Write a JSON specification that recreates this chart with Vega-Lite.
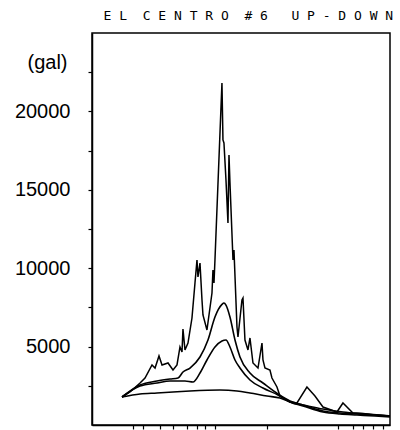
{
  "$schema": "https://vega.github.io/schema/vega-lite/v6.json",
  "width": 298,
  "height": 392,
  "autosize": {"type": "none"},
  "padding": {"left": 92, "top": 33, "right": 10, "bottom": 5},
  "background": "white",
  "title": {
    "text": "E\u00a0L\u00a0\u00a0C\u00a0E\u00a0N\u00a0T\u00a0R\u00a0O\u00a0\u00a0#\u00a06\u00a0\u00a0\u00a0U\u00a0P\u00a0-\u00a0D\u00a0O\u00a0W\u00a0N",
    "anchor": "end",
    "font": "DejaVu Sans Mono",
    "fontSize": 13,
    "fontWeight": "normal",
    "color": "black",
    "offset": 10
  },
  "config": {
    "view": {"stroke": "black", "strokeWidth": 1.5},
    "axis": {"grid": false, "domainColor": "black", "tickColor": "black", "labelColor": "black", "titleColor": "black"}
  },
  "datasets": {
    "spectra": [
      {"curve": "a", "period": 0.0349, "acc": 1786},
      {"curve": "a", "period": 0.0404, "acc": 2105},
      {"curve": "a", "period": 0.0487, "acc": 2679},
      {"curve": "a", "period": 0.0534, "acc": 2998},
      {"curve": "a", "period": 0.0608, "acc": 3827},
      {"curve": "a", "period": 0.0643, "acc": 3635},
      {"curve": "a", "period": 0.0692, "acc": 4401},
      {"curve": "a", "period": 0.0732, "acc": 3827},
      {"curve": "a", "period": 0.0818, "acc": 3954},
      {"curve": "a", "period": 0.0897, "acc": 3508},
      {"curve": "a", "period": 0.0966, "acc": 3827},
      {"curve": "a", "period": 0.1021, "acc": 4975},
      {"curve": "a", "period": 0.1060, "acc": 4656},
      {"curve": "a", "period": 0.1079, "acc": 6123},
      {"curve": "a", "period": 0.1120, "acc": 4784},
      {"curve": "a", "period": 0.1184, "acc": 5230},
      {"curve": "a", "period": 0.1275, "acc": 6824},
      {"curve": "a", "period": 0.1348, "acc": 9057},
      {"curve": "a", "period": 0.1399, "acc": 10524},
      {"curve": "a", "period": 0.1425, "acc": 9439},
      {"curve": "a", "period": 0.1479, "acc": 10332},
      {"curve": "a", "period": 0.1535, "acc": 7973},
      {"curve": "a", "period": 0.1563, "acc": 7016},
      {"curve": "a", "period": 0.1683, "acc": 6059},
      {"curve": "a", "period": 0.1847, "acc": 8419},
      {"curve": "a", "period": 0.1881, "acc": 9886},
      {"curve": "a", "period": 0.1917, "acc": 9057},
      {"curve": "a", "period": 0.1952, "acc": 10524},
      {"curve": "a", "period": 0.2222, "acc": 21813},
      {"curve": "a", "period": 0.2264, "acc": 18177},
      {"curve": "a", "period": 0.2306, "acc": 17986},
      {"curve": "a", "period": 0.2394, "acc": 15626},
      {"curve": "a", "period": 0.2484, "acc": 12884},
      {"curve": "a", "period": 0.2531, "acc": 17221},
      {"curve": "a", "period": 0.2578, "acc": 15435},
      {"curve": "a", "period": 0.2726, "acc": 10524},
      {"curve": "a", "period": 0.2776, "acc": 11162},
      {"curve": "a", "period": 0.2935, "acc": 6250},
      {"curve": "a", "period": 0.2990, "acc": 5613},
      {"curve": "a", "period": 0.3219, "acc": 7973},
      {"curve": "a", "period": 0.3280, "acc": 8100},
      {"curve": "a", "period": 0.3403, "acc": 5421},
      {"curve": "a", "period": 0.3598, "acc": 4784},
      {"curve": "a", "period": 0.3734, "acc": 5549},
      {"curve": "a", "period": 0.3948, "acc": 3954},
      {"curve": "a", "period": 0.4332, "acc": 3635},
      {"curve": "a", "period": 0.4665, "acc": 5230},
      {"curve": "a", "period": 0.4751, "acc": 4146},
      {"curve": "a", "period": 0.4930, "acc": 3635},
      {"curve": "a", "period": 0.5408, "acc": 3508},
      {"curve": "a", "period": 0.5612, "acc": 2998},
      {"curve": "a", "period": 0.6157, "acc": 2424},
      {"curve": "a", "period": 0.6508, "acc": 1850},
      {"curve": "a", "period": 0.7832, "acc": 1467},
      {"curve": "a", "period": 0.892, "acc": 1403},
      {"curve": "a", "period": 1.073, "acc": 2424},
      {"curve": "a", "period": 1.245, "acc": 1850},
      {"curve": "a", "period": 1.444, "acc": 1148},
      {"curve": "a", "period": 1.871, "acc": 829},
      {"curve": "a", "period": 2.091, "acc": 1403},
      {"curve": "a", "period": 2.516, "acc": 765},
      {"curve": "a", "period": 3.262, "acc": 702},
      {"curve": "a", "period": 3.782, "acc": 638},
      {"curve": "a", "period": 4.994, "acc": 574},

      {"curve": "b", "period": 0.0349, "acc": 1786},
      {"curve": "b", "period": 0.0487, "acc": 2551},
      {"curve": "b", "period": 0.0667, "acc": 2806},
      {"curve": "b", "period": 0.0848, "acc": 2934},
      {"curve": "b", "period": 0.0984, "acc": 2998},
      {"curve": "b", "period": 0.1079, "acc": 3380},
      {"curve": "b", "period": 0.1229, "acc": 3635},
      {"curve": "b", "period": 0.1479, "acc": 4337},
      {"curve": "b", "period": 0.1715, "acc": 5421},
      {"curve": "b", "period": 0.1952, "acc": 6888},
      {"curve": "b", "period": 0.2222, "acc": 7690},
      {"curve": "b", "period": 0.2306, "acc": 7780},
      {"curve": "b", "period": 0.2394, "acc": 7650},
      {"curve": "b", "period": 0.2578, "acc": 6888},
      {"curve": "b", "period": 0.2829, "acc": 5421},
      {"curve": "b", "period": 0.3102, "acc": 4337},
      {"curve": "b", "period": 0.3734, "acc": 3317},
      {"curve": "b", "period": 0.4751, "acc": 2679},
      {"curve": "b", "period": 0.6272, "acc": 1977},
      {"curve": "b", "period": 0.7832, "acc": 1531},
      {"curve": "b", "period": 0.9966, "acc": 1276},
      {"curve": "b", "period": 1.444, "acc": 893},
      {"curve": "b", "period": 1.978, "acc": 765},
      {"curve": "b", "period": 2.710, "acc": 702},
      {"curve": "b", "period": 3.782, "acc": 638},
      {"curve": "b", "period": 4.994, "acc": 574},

      {"curve": "c", "period": 0.0349, "acc": 1786},
      {"curve": "c", "period": 0.0487, "acc": 2487},
      {"curve": "c", "period": 0.0667, "acc": 2679},
      {"curve": "c", "period": 0.0848, "acc": 2806},
      {"curve": "c", "period": 0.1120, "acc": 2806},
      {"curve": "c", "period": 0.1299, "acc": 2743},
      {"curve": "c", "period": 0.1479, "acc": 3317},
      {"curve": "c", "period": 0.1683, "acc": 4146},
      {"curve": "c", "period": 0.1952, "acc": 4975},
      {"curve": "c", "period": 0.2222, "acc": 5358},
      {"curve": "c", "period": 0.2394, "acc": 5421},
      {"curve": "c", "period": 0.2578, "acc": 4975},
      {"curve": "c", "period": 0.2829, "acc": 4146},
      {"curve": "c", "period": 0.3102, "acc": 3635},
      {"curve": "c", "period": 0.3734, "acc": 2870},
      {"curve": "c", "period": 0.4751, "acc": 2360},
      {"curve": "c", "period": 0.6272, "acc": 1913},
      {"curve": "c", "period": 0.7832, "acc": 1467},
      {"curve": "c", "period": 0.9966, "acc": 1212},
      {"curve": "c", "period": 1.444, "acc": 829},
      {"curve": "c", "period": 1.978, "acc": 702},
      {"curve": "c", "period": 2.710, "acc": 638},
      {"curve": "c", "period": 3.782, "acc": 574},
      {"curve": "c", "period": 4.994, "acc": 510},

      {"curve": "d", "period": 0.0349, "acc": 1786},
      {"curve": "d", "period": 0.0487, "acc": 1977},
      {"curve": "d", "period": 0.0667, "acc": 2041},
      {"curve": "d", "period": 0.0897, "acc": 2105},
      {"curve": "d", "period": 0.1229, "acc": 2169},
      {"curve": "d", "period": 0.2142, "acc": 2232},
      {"curve": "d", "period": 0.2935, "acc": 2169},
      {"curve": "d", "period": 0.3734, "acc": 2041},
      {"curve": "d", "period": 0.5117, "acc": 1850},
      {"curve": "d", "period": 0.6508, "acc": 1722},
      {"curve": "d", "period": 0.828, "acc": 1403},
      {"curve": "d", "period": 0.9966, "acc": 1276},
      {"curve": "d", "period": 1.444, "acc": 1020},
      {"curve": "d", "period": 2.091, "acc": 829},
      {"curve": "d", "period": 3.262, "acc": 702},
      {"curve": "d", "period": 4.994, "acc": 574}
    ]
  },
  "data": {"name": "spectra"},
  "encoding": {
    "x": {
      "field": "period",
      "type": "quantitative",
      "scale": {"type": "log", "domain": [0.02, 5], "nice": false},
      "axis": {
        "title": null,
        "labels": false,
        "values": [0.0427, 0.0514, 0.0706, 0.0897, 0.1163, 0.1399, 0.1622, 0.1952, 0.5117, 1.906, 2.516, 3.03, 3.65, 4.39],
        "tickSize": 4,
        "tickWidth": 1.2,
        "domainWidth": 1.5
      }
    },
    "y": {
      "field": "acc",
      "type": "quantitative",
      "scale": {"domain": [0, 25000], "nice": false},
      "axis": {
        "title": "(gal)",
        "titleAngle": 0,
        "titleX": -45,
        "titleY": 29,
        "titleAlign": "center",
        "titleBaseline": "middle",
        "titleFont": "Liberation Sans",
        "titleFontSize": 20,
        "titleFontWeight": "normal",
        "values": [2500, 5000, 7500, 10000, 12500, 15000, 17500, 20000, 22500],
        "format": "d",
        "labelExpr": "datum.value % 5000 == 0 ? datum.label : ''",
        "labelFont": "Liberation Sans",
        "labelFontSize": 20,
        "labelPadding": 18,
        "tickSize": 4,
        "tickWidth": 1.2,
        "domainWidth": 1.5
      }
    },
    "detail": {"field": "curve"}
  },
  "layer": [
    {
      "transform": [{"filter": "datum.curve == 'a'"}],
      "mark": {"type": "line", "color": "black", "strokeWidth": 1.5, "interpolate": "linear"}
    },
    {
      "transform": [{"filter": "datum.curve != 'a'"}],
      "mark": {"type": "line", "color": "black", "strokeWidth": 1.6, "interpolate": "monotone"}
    }
  ]
}
